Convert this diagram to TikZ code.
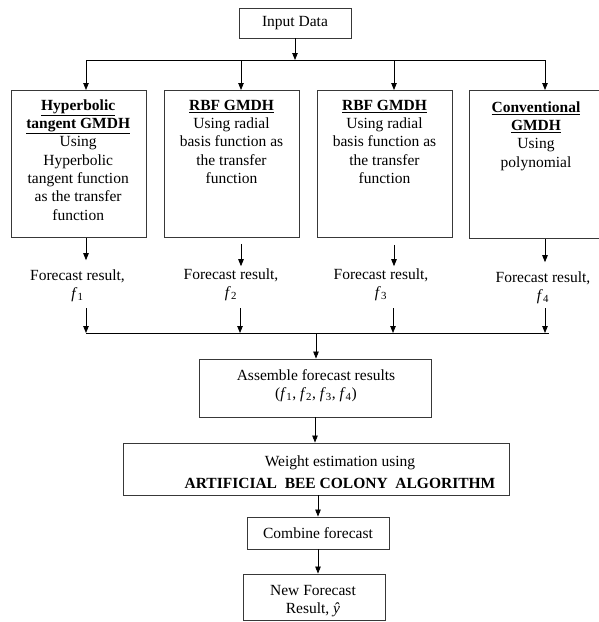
\documentclass[tikz,border=0pt]{standalone}
\usepackage{fontspec}
\setmainfont{Liberation Serif}
\usetikzlibrary{arrows.meta}
\newcommand\fsz{\fontsize{15.5}{18.3}\selectfont}
\newcommand\fwide{\fontsize{15.5}{22}\selectfont}
\newcommand\ffn[1]{\textit{f}\textsubscript{#1}}
\begin{document}
\begin{tikzpicture}[x=1pt,y=-1pt,
  box/.style={draw=black!78, line width=0.9pt, inner sep=0pt},
  txt/.style={align=center, inner sep=0pt, font=\fsz},
  arr/.style={draw=black, line width=0.8pt, -{Triangle[length=7pt,width=5.5pt]}},
  ln/.style={draw=black, line width=0.8pt}]
\useasboundingbox (0,0) rectangle (598,622);

% input
\node[box, minimum width=112pt, minimum height=30pt, font=\fsz] (in) at (295,23) {Input Data};

% four method boxes
\node[box, anchor=north west, minimum width=135pt, minimum height=147pt] (b1) at (10.7,90) {};
\node[box, anchor=north west, minimum width=135pt, minimum height=147pt] (b2) at (164,90) {};
\node[box, anchor=north west, minimum width=135pt, minimum height=147pt] (b3) at (317,90) {};
\node[box, anchor=north west, minimum width=145pt, minimum height=148pt] (b4) at (469,90) {};

\node[txt, anchor=north] (t1) at (78.2,97.2) {\strut\textbf{\underline{Hyperbolic}}\\\textbf{\underline{tangent GMDH}}\\Using\\Hyperbolic\\tangent function\\as the transfer\\function};
\node[txt, anchor=north] (t2) at (231.5,97.2) {\strut\textbf{\underline{RBF GMDH}}\\Using radial\\basis function as\\the transfer\\function};
\node[txt, anchor=north] (t3) at (384.5,97.2) {\strut\textbf{\underline{RBF GMDH}}\\Using radial\\basis function as\\the transfer\\function};
\node[txt, anchor=north] (t4) at (536,99.2) {\strut\textbf{\underline{Conventional}}\\\textbf{\underline{GMDH}}\\Using\\polynomial};

% distribution
\coordinate (jt) at (295,60);
\coordinate (x1) at (86,60);
\coordinate (x2) at (241,60);
\coordinate (x3) at (394,60);
\coordinate (x4) at (545,60);
\draw[arr] (in.south) -- (jt);
\draw[ln] (x1) -- (x4);
\draw[arr] (x1) -- (x1 |- b1.north);
\draw[arr] (x2) -- (x2 |- b2.north);
\draw[arr] (x3) -- (x3 |- b3.north);
\draw[arr] (x4) -- (x4 |- b4.north);

% forecast labels
\node[txt, anchor=north] (l1) at (77.5,267.2) {\strut Forecast result,\\\ffn{1}};
\node[txt, anchor=north] (l2) at (231,266.2) {\strut Forecast result,\\\ffn{2}};
\node[txt, anchor=north] (l3) at (381,266.2) {\strut Forecast result,\\\ffn{3}};
\node[txt, anchor=north] (l4) at (543,269.2) {\strut Forecast result,\\\ffn{4}};

\draw[arr, shorten >=7pt] (b1.south -| x1) -- (x1 |- l1.north);
\draw[arr, shorten <=6pt] (b2.south -| x2) -- (x2 |- l2.north);
\draw[arr, shorten <=7pt] (b3.south -| x3) -- (x3 |- l3.north);
\draw[arr, shorten >=7pt] (b4.south -| x4) -- (x4 |- l4.north);

% collecting bus
\coordinate (y1) at (86,333);
\coordinate (y2) at (240,333);
\coordinate (y3) at (393,333);
\coordinate (y4) at (545,333);
\coordinate (ye) at (549,333);
\coordinate (ym) at (316,333);
\draw[arr, shorten <=6pt] (y1 |- l1.south) -- (y1);
\draw[arr, shorten <=7pt] (y2 |- l2.south) -- (y2);
\draw[arr, shorten <=7pt] (y3 |- l3.south) -- (y3);
\draw[arr, shorten <=4pt] (y4 |- l4.south) -- (y4);
\draw[ln] (y1) -- (ye);

% assemble
\node[box, minimum width=232pt, minimum height=58pt] (as) at (315,388) {};
\node[txt, anchor=north] (ta) at (316,367.2) {\strut Assemble forecast results\\(\ffn{1}, \ffn{2}, \ffn{3}, \ffn{4})};
\draw[arr] (ym) -- (ym |- as.north);

% weight estimation
\node[box, minimum width=386pt, minimum height=52pt] (we) at (316,469) {};
\node[txt, anchor=north, font=\fwide] (tw) at (340,450.6) {\strut Weight estimation using\\\textbf{ARTIFICIAL\ \ BEE COLONY\ \ ALGORITHM}};
\draw[arr] (as.south) -- (as.south |- we.north);

% combine
\node[box, minimum width=142pt, minimum height=32pt, font=\fsz] (co) at (318,533) {Combine forecast};
\draw[arr] (we.south -| co.north) -- (co.north);

% new forecast
\node[box, minimum width=142pt, minimum height=46pt] (nf) at (314,597) {};
\node[txt, anchor=north] (tn) at (313,582.2) {\strut New Forecast\\Result, \textit{ŷ}};
\draw[arr] (co.south) -- (co.south |- nf.north);
\end{tikzpicture}
\end{document}
